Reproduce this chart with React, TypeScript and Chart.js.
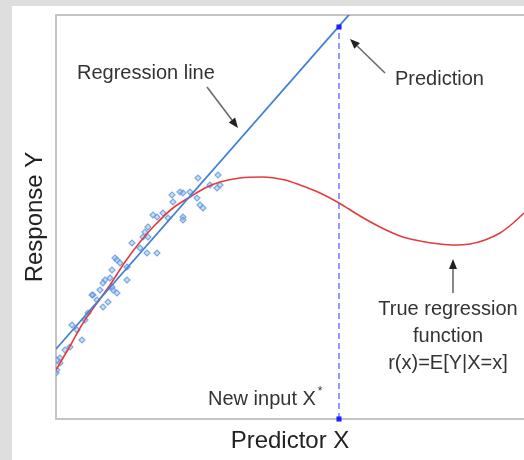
import React, { useEffect, useRef } from "react";
import { Chart, registerables } from "chart.js";

Chart.register(...registerables);

// ---- Data (arbitrary units) ----
const trueCurveX = [0, 14, 27, 41, 54, 69, 84, 99, 117, 134, 149, 164, 184, 206, 229, 244, 264, 283, 304, 324, 344, 364, 384, 399, 414, 429, 444, 456, 468];
const trueCurveY = [49, 73, 96, 116, 134, 157, 177, 194, 211, 222, 231, 237, 241, 242, 239, 234, 226, 216, 203, 192, 183, 178, 175, 174, 175, 179, 186, 195, 206];

const regLineX = [0, 320];
const regLineY = [70, 435];

const sampleX = [142, 162, 164, 161, 154, 124, 116, 127, 134, 117, 141, 144, 147, 97, 101, 107, 112, 127, 127, 89, 87, 92, 92, 76, 84, 101, 91, 59, 61, 64, 56, 71, 49, 54, 47, 71, 57, 44, 37, 56, 36, 61, 41, 52, 47, 32, 29, 16, 21, 26, 14, 9, 4, 1, 4, 1, 0];
const sampleY = [241, 244, 234, 231, 234, 227, 224, 226, 227, 217, 221, 214, 211, 204, 202, 206, 201, 202, 199, 187, 182, 192, 182, 176, 171, 166, 166, 161, 159, 156, 149, 152, 139, 141, 136, 139, 129, 129, 124, 132, 124, 126, 119, 117, 112, 106, 99, 94, 89, 79, 72, 69, 61, 59, 56, 49, 46];

const newInputX = 283;
const predictionY = 392;

const xMin = 0;
const xMax = 468;
const yMin = 0;
const yMax = 404;

const xTitle = "Predictor X";
const yTitle = "Response Y";

// annotation texts
const regressionLabel = "Regression line";
const predictionLabel = "Prediction";
const newInputLabel = "New input X";
const newInputSup = "*";
const trueFnLines = ["True regression", "function", "r(x)=E[Y|X=x]"];

const FONT = "'Liberation Sans', Arial, Helvetica, sans-serif";

const backgroundPlugin = {
  id: "panelBackground",
  beforeDraw(chart: any) {
    const { ctx, width, height } = chart;
    ctx.save();
    ctx.fillStyle = "#dedede";
    ctx.fillRect(0, 0, width, height);
    ctx.fillStyle = "#ffffff";
    ctx.fillRect(12, 6, width - 12, height - 6);
    ctx.restore();
  },
};

function drawArrow(ctx: CanvasRenderingContext2D, x1: number, y1: number, x2: number, y2: number) {
  const ang = Math.atan2(y2 - y1, x2 - x1);
  const headLen = 10;
  const headW = 4;
  const bx = x2 - headLen * Math.cos(ang);
  const by = y2 - headLen * Math.sin(ang);
  ctx.strokeStyle = "#6a6a6a";
  ctx.lineWidth = 1.6;
  ctx.beginPath();
  ctx.moveTo(x1, y1);
  ctx.lineTo(bx, by);
  ctx.stroke();
  ctx.fillStyle = "#222222";
  ctx.beginPath();
  ctx.moveTo(x2, y2);
  ctx.lineTo(bx + headW * Math.sin(ang), by - headW * Math.cos(ang));
  ctx.lineTo(bx - headW * Math.sin(ang), by + headW * Math.cos(ang));
  ctx.closePath();
  ctx.fill();
}

const annotationPlugin = {
  id: "annotations",
  afterDatasetsDraw(chart: any) {
    const { ctx } = chart;
    const xs = chart.scales.x;
    const ys = chart.scales.y;
    const px = (v: number) => xs.getPixelForValue(v);
    const py = (v: number) => ys.getPixelForValue(v);
    ctx.save();
    ctx.fillStyle = "#333333";
    ctx.font = `20px ${FONT}`;
    ctx.textBaseline = "alphabetic";
    ctx.textAlign = "left";
    ctx.fillText(regressionLabel, px(21), py(340));
    ctx.fillText(predictionLabel, px(339), py(334));
    ctx.fillText(newInputLabel, px(152), py(14));
    const w = ctx.measureText(newInputLabel).width;
    ctx.font = `12px ${FONT}`;
    ctx.fillText(newInputSup, px(152) + w + 2, py(14) - 10);
    ctx.font = `20px ${FONT}`;
    ctx.textAlign = "center";
    const tY = [104, 77, 50];
    trueFnLines.forEach((t, i) => ctx.fillText(t, px(392), py(tY[i])));

    drawArrow(ctx, px(151), py(332), px(182), py(291));
    drawArrow(ctx, px(329), py(346), px(294), py(380));
    drawArrow(ctx, px(397), py(126), px(397), py(160));
    ctx.restore();
  },
};

export default function App() {
  const ref = useRef<HTMLCanvasElement | null>(null);

  useEffect(() => {
    if (!ref.current) return;
    const chart = new Chart(ref.current, {
      type: "scatter",
      data: {
        datasets: [
          {
            label: "Prediction",
            data: [
              { x: newInputX, y: predictionY },
              { x: newInputX, y: yMin },
            ],
            pointStyle: "rect",
            pointRadius: 3.6,
            backgroundColor: "#1f1fff",
            borderColor: "#1f1fff",
            borderWidth: 0,
            showLine: false,
            clip: false as any,
          },
          {
            label: "New input",
            data: [
              { x: newInputX, y: yMin },
              { x: newInputX, y: predictionY },
            ],
            showLine: true,
            borderColor: "#4a55ff",
            borderWidth: 1.2,
            borderDash: [6, 4],
            pointRadius: 0,
          },
          {
            label: "Regression line",
            data: regLineX.map((x, i) => ({ x, y: regLineY[i] })),
            showLine: true,
            borderColor: "#3f80d6",
            borderWidth: 1.8,
            pointRadius: 0,
          },
          {
            label: "True regression function",
            data: trueCurveX.map((x, i) => ({ x, y: trueCurveY[i] })),
            showLine: true,
            borderColor: "#e53b3b",
            borderWidth: 1.6,
            pointRadius: 0,
            cubicInterpolationMode: "monotone",
          },
          {
            label: "Samples",
            data: sampleX.map((x, i) => ({ x, y: sampleY[i] })),
            pointStyle: "rectRot",
            pointRadius: 3,
            borderWidth: 1.2,
            borderColor: "rgba(95,150,222,0.8)",
            backgroundColor: "rgba(140,182,236,0.45)",
            showLine: false,
          },
        ],
      },
      options: {
        animation: false,
        responsive: false,
        events: [],
        layout: { autoPadding: false, padding: { left: 0, top: 15, right: 0, bottom: 0 } },
        plugins: { legend: { display: false }, tooltip: { enabled: false } },
        scales: {
          x: {
            type: "linear",
            position: "bottom",
            min: xMin,
            max: xMax,
            ticks: { display: false },
            grid: { display: false, drawTicks: false },
            border: { display: true, color: "#c4c4c4", width: 2 },
            title: {
              display: true,
              text: xTitle,
              color: "#222222",
              font: { family: FONT, size: 24 },
              padding: { top: 7.6, bottom: 4.6 },
            },
          },
          x2: {
            type: "linear",
            position: "top",
            min: xMin,
            max: xMax,
            display: true,
            ticks: { display: false },
            grid: { display: false, drawTicks: false },
            border: { display: true, color: "#c4c4c4", width: 2 },
          },
          y: {
            type: "linear",
            min: yMin,
            max: yMax,
            ticks: { display: false },
            grid: { display: false, drawTicks: false },
            border: { display: true, color: "#c4c4c4", width: 2 },
            title: {
              display: true,
              text: yTitle,
              color: "#222222",
              font: { family: FONT, size: 24 },
              padding: { top: 20.6, bottom: 6.6 },
            },
          },
        },
      },
      plugins: [backgroundPlugin, annotationPlugin],
    } as any);
    return () => chart.destroy();
  }, []);

  return (
    <div style={{ position: "fixed", left: 0, top: 0, width: 524, height: 460 }}>
      <canvas ref={ref} width={524} height={460} style={{ display: "block" }} />
    </div>
  );
}
